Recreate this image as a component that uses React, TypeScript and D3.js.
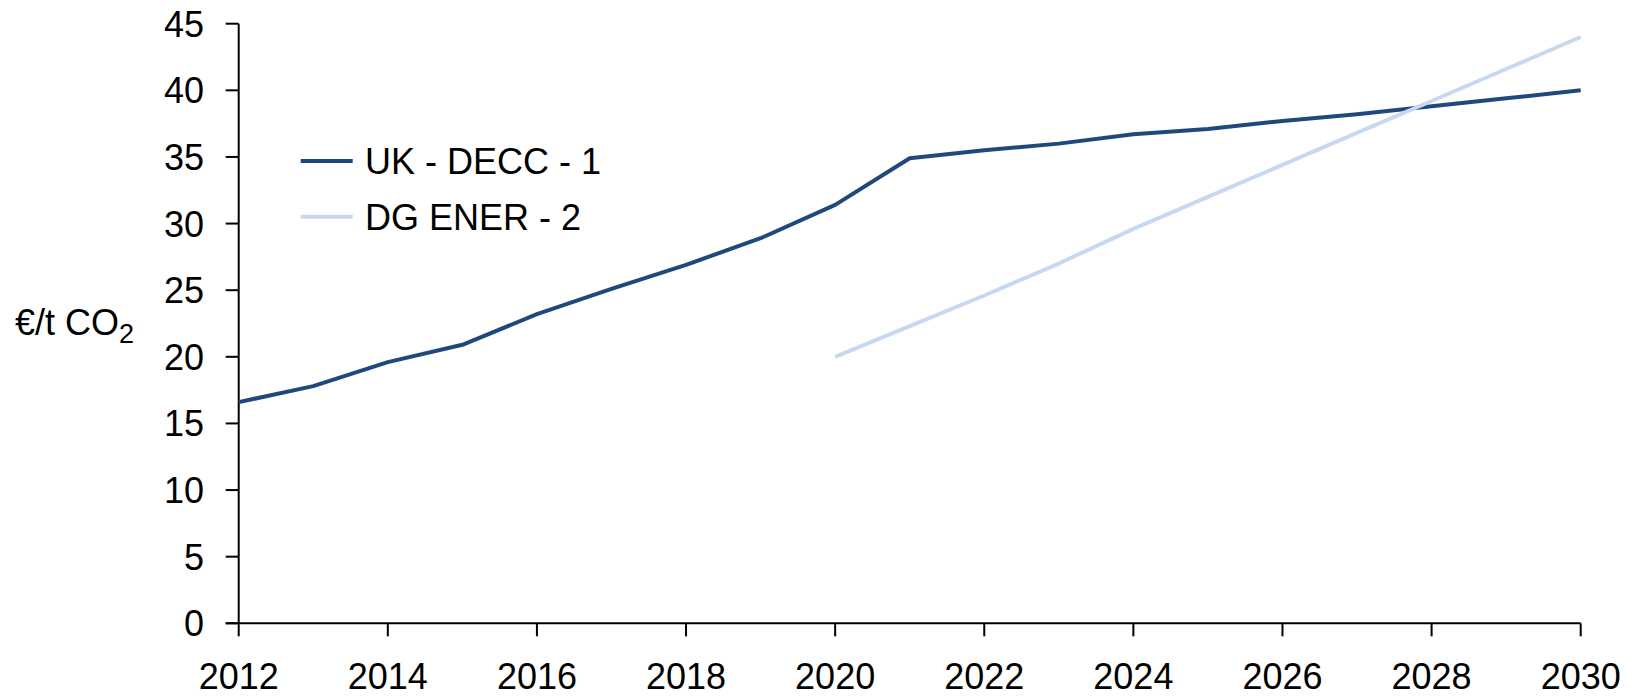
import React from 'react';
import * as d3 from 'd3';

// chart values
const years = [2012, 2013, 2014, 2015, 2016, 2017, 2018, 2019, 2020, 2021,
  2022, 2023, 2024, 2025, 2026, 2027, 2028, 2029, 2030];
const ukDecc = [16.6, 17.8, 19.6, 20.9, 23.2, 25.1, 26.9, 28.9, 31.4, 34.9,
  35.5, 36.0, 36.7, 37.1, 37.7, 38.2, 38.8, 39.4, 40.0];
const dgEnerYears = [2020, 2021, 2022, 2023, 2024, 2025, 2026, 2027, 2028, 2029, 2030];
const dgEner = [20.0, 22.3, 24.6, 27.0, 29.6, 32.0, 34.4, 36.8, 39.2, 41.6, 44.0];
const yTicks = [0, 5, 10, 15, 20, 25, 30, 35, 40, 45];
const xTicks = [2012, 2014, 2016, 2018, 2020, 2022, 2024, 2026, 2028, 2030];
const seriesNames = ['UK - DECC - 1', 'DG ENER - 2'];
const seriesColors = ['#1F497D', '#C6D9F1'];

const width = 1629;
const height = 697;
const font = 'Arial, "Liberation Sans", sans-serif';

export default function App() {
  const xScale = d3.scaleLinear().domain([2012, 2030]).range([238.7, 1580.7]);
  const yScale = d3.scaleLinear().domain([0, 45]).range([623.3, 23.7]);

  const line = d3.line<[number, number]>()
    .x(d => xScale(d[0]))
    .y(d => yScale(d[1]));

  const series = [
    years.map((y, i) => [y, ukDecc[i]] as [number, number]),
    dgEnerYears.map((y, i) => [y, dgEner[i]] as [number, number]),
  ];

  const x0 = xScale.range()[0];
  const y0 = yScale.range()[0];

  return (
    <svg width={width} height={height}
      style={{position: 'absolute', left: 0, top: 0, background: '#fff'}}
      fontFamily={font}>
      {/* y axis */}
      <line x1={x0} x2={x0} y1={yScale(45)} y2={y0} stroke="#000" strokeWidth={2} />
      {yTicks.map(t => (
        <g key={t}>
          <line x1={x0 - 13} x2={x0} y1={yScale(t)} y2={yScale(t)} stroke="#000" strokeWidth={2} />
          <text x={204} y={yScale(t)} dy="0.36em" textAnchor="end" fontSize={36} fill="#000">{t}</text>
        </g>
      ))}
      {/* x axis */}
      <line x1={x0 - 13} x2={xScale(2030)} y1={y0} y2={y0} stroke="#000" strokeWidth={2} />
      {xTicks.map(t => (
        <g key={t}>
          <line x1={xScale(t)} x2={xScale(t)} y1={y0} y2={y0 + 13} stroke="#000" strokeWidth={2} />
          <text x={xScale(t)} y={689} textAnchor="middle" fontSize={36} fill="#000">{t}</text>
        </g>
      ))}
      {/* y title */}
      <text x={15} y={335} fontSize={36} fill="#000">
        €/t CO<tspan fontSize={27} dy={8}>2</tspan>
      </text>
      {/* lines */}
      {series.map((s, i) => (
        <path key={i} d={line(s) || ''} fill="none" stroke={seriesColors[i]} strokeWidth={4}
          strokeLinejoin="round" />
      ))}
      {/* legend */}
      {seriesNames.map((name, i) => (
        <g key={name} transform={`translate(0, ${161 + i * 55.7})`}>
          <line x1={300.7} x2={352.7} y1={0} y2={0} stroke={seriesColors[i]} strokeWidth={4} />
          <text x={365} y={0} dy="0.36em" fontSize={36} fill="#000">{name}</text>
        </g>
      ))}
    </svg>
  );
}
